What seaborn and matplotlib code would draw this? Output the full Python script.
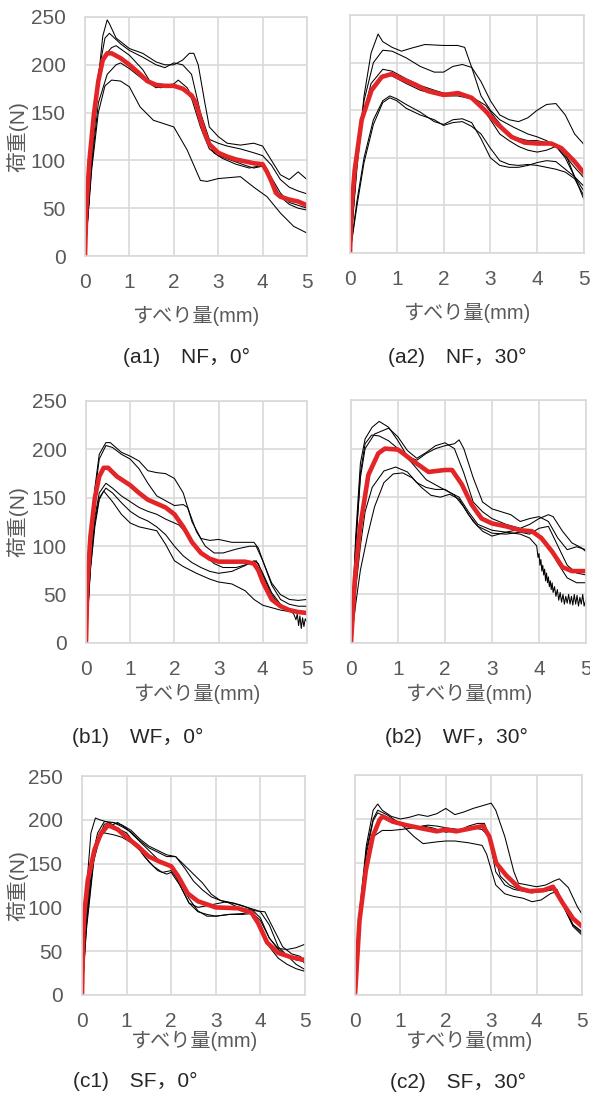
import matplotlib
matplotlib.use("Agg")
import matplotlib.pyplot as plt
import seaborn as sns

sns.set_style("white")
plt.rcParams["font.family"] = ["Liberation Sans", "Noto Sans CJK JP", "DejaVu Sans"]

# ---------------- data ----------------
X_TICKS = [0, 1, 2, 3, 4, 5]
Y_TICKS = [0, 50, 100, 150, 200, 250]
XLABEL = "すべり量(mm)"
YLABEL = "荷重(N)"
CAPTIONS = ["(a1)\u3000NF\uff0c0°", "(a2)\u3000NF\uff0c30°",
            "(b1)\u3000WF\uff0c0°", "(b2)\u3000WF\uff0c30°",
            "(c1)\u3000SF\uff0c0°", "(c2)\u3000SF\uff0c30°"]

# (a1) NF 0deg
A1_MEAN = [(0,0),(0.03,50),(0.1,100),(0.2,148),(0.3,183),(0.4,205),(0.5,212),(0.6,212),(0.8,207),(1.0,200),(1.2,192),(1.4,183),(1.6,179),(1.8,178),(2.0,178),(2.2,175),(2.4,168),(2.5,160),(2.6,143),(2.7,128),(2.8,117),(3.0,108),(3.2,104),(3.4,101),(3.6,99),(3.8,97),(4.0,96),(4.1,88),(4.2,78),(4.3,66),(4.4,62),(4.6,59),(4.8,57),(5.0,53)]
A1_S1 = [(0,0),(0.15,100),(0.3,185),(0.4,230),(0.5,247),(0.55,243),(0.7,228),(1.0,217),(1.3,212),(1.6,203),(1.8,200),(2.0,200),(2.2,205),(2.35,212),(2.45,212),(2.55,200),(2.7,160),(2.8,135),(3.0,125),(3.2,118),(3.5,116),(3.8,118),(4.0,115),(4.2,100),(4.4,85),(4.6,80),(4.8,88),(5.0,80)]
A1_S2 = [(0,0),(0.15,105),(0.3,190),(0.45,228),(0.55,233),(0.8,222),(1.0,215),(1.3,208),(1.6,200),(1.8,197),(2.0,202),(2.2,200),(2.4,190),(2.6,150),(2.8,122),(3.0,118),(3.2,115),(3.5,112),(3.8,108),(4.0,105),(4.2,95),(4.4,80),(4.6,72),(4.8,68),(5.0,65)]
A1_S3 = [(0,0),(0.15,100),(0.3,180),(0.45,210),(0.6,218),(0.7,220),(1.0,210),(1.3,195),(1.5,180),(1.7,176),(2.0,178),(2.2,175),(2.4,165),(2.6,135),(2.8,112),(3.0,105),(3.3,100),(3.6,95),(3.8,92),(4.0,94),(4.2,80),(4.4,62),(4.6,54),(4.8,50),(5.0,48)]
A1_S4 = [(0,0),(0.15,95),(0.3,160),(0.5,190),(0.7,200),(0.8,202),(1.0,196),(1.3,185),(1.6,176),(1.8,178),(2.0,180),(2.1,184),(2.3,176),(2.5,160),(2.7,125),(2.9,108),(3.1,102),(3.4,96),(3.7,92),(4.0,95),(4.2,82),(4.4,66),(4.6,56),(4.8,53),(5.0,50)]
A1_S5 = [(0,0),(0.15,90),(0.3,150),(0.45,178),(0.6,184),(0.8,183),(1.0,177),(1.24,156),(1.54,142),(2.0,135),(2.3,111),(2.6,79),(2.75,78),(3.0,81),(3.5,83),(3.8,72),(4.1,62),(4.4,45),(4.7,31),(5.0,24)]

# (a2) NF 30deg
A2_MEAN = [(0,0),(0.03,45),(0.1,87),(0.25,140),(0.46,171),(0.68,185),(0.89,188),(1.1,183),(1.39,177),(1.67,170),(2.0,166),(2.31,168),(2.6,163),(2.88,150),(3.16,135),(3.45,122),(3.73,116),(4.0,115),(4.3,115),(4.52,110),(4.8,96),(5.0,84)]
A2_S1 = [(0,0),(0.15,95),(0.3,165),(0.45,210),(0.6,230),(0.7,222),(0.9,216),(1.1,212),(1.3,215),(1.6,219),(2.0,218),(2.3,218),(2.45,216),(2.6,195),(2.8,165),(3.0,150),(3.2,140),(3.5,132),(3.8,125),(4.0,122),(4.2,118),(4.4,112),(4.6,100),(4.8,80),(5.0,65)]
A2_S2 = [(0,0),(0.15,90),(0.3,160),(0.5,200),(0.7,213),(0.9,212),(1.2,205),(1.5,196),(1.8,190),(2.0,190),(2.2,196),(2.4,198),(2.6,195),(2.8,180),(3.0,160),(3.2,145),(3.4,140),(3.6,138),(3.8,142),(4.0,150),(4.2,156),(4.4,157),(4.6,145),(4.8,125),(5.0,114)]
A2_S3 = [(0,0),(0.1,80),(0.25,140),(0.45,178),(0.7,193),(0.9,191),(1.2,183),(1.5,176),(1.8,171),(2.0,168),(2.3,167),(2.6,164),(2.9,155),(3.1,142),(3.3,130),(3.5,122),(3.8,118),(4.0,118),(4.2,116),(4.4,112),(4.6,102),(4.8,90),(5.0,79)]
A2_S4 = [(0,0),(0.1,75),(0.25,135),(0.45,173),(0.7,187),(0.9,186),(1.2,178),(1.5,171),(1.8,167),(2.0,165),(2.3,165),(2.6,162),(2.8,155),(3.0,140),(3.2,125),(3.4,118),(3.6,112),(3.8,108),(4.0,106),(4.2,108),(4.4,112),(4.6,105),(4.8,80),(5.0,56)]
A2_S5 = [(0,0),(0.15,55),(0.3,100),(0.5,140),(0.7,160),(0.85,165),(1.0,162),(1.2,156),(1.5,148),(1.8,138),(2.0,135),(2.2,140),(2.4,141),(2.6,137),(2.8,120),(3.0,100),(3.2,92),(3.4,90),(3.6,90),(3.8,92),(4.0,95),(4.2,97),(4.4,96),(4.6,88),(4.8,80),(5.0,70)]
A2_S6 = [(0,0),(0.15,50),(0.3,95),(0.5,135),(0.7,158),(0.85,163),(1.0,160),(1.2,152),(1.5,145),(1.8,140),(2.0,134),(2.2,137),(2.4,138),(2.6,133),(2.8,125),(3.0,110),(3.2,97),(3.4,93),(3.6,92),(3.8,93),(4.0,92),(4.2,90),(4.4,88),(4.6,85),(4.8,78),(5.0,60)]

# (b1) WF 0deg
B1_MEAN = [(0,0),(0.03,60),(0.1,110),(0.2,150),(0.3,172),(0.4,181),(0.5,181),(0.7,172),(1.0,163),(1.2,155),(1.4,148),(1.6,144),(1.8,140),(2.0,133),(2.2,120),(2.4,104),(2.6,93),(2.8,87),(3.0,84),(3.3,84),(3.6,84),(3.8,82),(3.9,75),(4.0,63),(4.2,45),(4.4,38),(4.6,34),(4.8,32),(5.0,31)]
B1_S1 = [(0,0),(0.1,90),(0.2,160),(0.3,195),(0.45,207),(0.55,207),(0.8,197),(1.0,193),(1.2,188),(1.4,178),(1.6,176),(1.8,175),(2.0,170),(2.2,155),(2.4,125),(2.6,108),(2.8,106),(3.0,107),(3.3,104),(3.6,104),(3.8,104),(3.9,98),(4.0,85),(4.2,62),(4.4,50),(4.6,45),(4.8,44),(5.0,45)]
B1_S2 = [(0,0),(0.1,85),(0.2,155),(0.3,190),(0.45,204),(0.6,202),(0.8,195),(1.0,190),(1.2,180),(1.4,165),(1.6,152),(1.8,147),(2.0,142),(2.2,143),(2.3,140),(2.5,115),(2.7,100),(2.9,93),(3.1,93),(3.4,97),(3.7,100),(3.85,100),(4.0,85),(4.2,60),(4.4,45),(4.6,40),(4.8,38),(5.0,38)]
B1_S3 = [(0,0),(0.1,80),(0.2,130),(0.3,155),(0.45,165),(0.6,160),(0.8,152),(1.0,146),(1.2,140),(1.4,136),(1.6,133),(1.8,128),(2.0,124),(2.1,122),(2.3,112),(2.5,100),(2.7,90),(2.9,82),(3.1,78),(3.4,78),(3.7,82),(3.85,85),(4.0,72),(4.2,52),(4.4,40),(4.6,34),(4.7,30),(4.75,24),(4.78,30),(4.81,18),(4.84,28),(4.87,15),(4.9,26),(4.93,17),(4.96,25),(5.0,22)]
B1_S4 = [(0,0),(0.1,75),(0.2,120),(0.3,148),(0.4,157),(0.6,146),(0.8,133),(1.0,124),(1.2,120),(1.4,118),(1.6,116),(1.8,102),(2.0,85),(2.2,79),(2.5,72),(2.8,66),(3.0,63),(3.3,61),(3.6,54),(3.8,45),(4.0,39),(4.4,34),(4.8,31),(5.0,30)]
B1_S5 = [(0,0),(0.1,78),(0.2,125),(0.3,150),(0.45,160),(0.6,155),(0.8,145),(1.0,136),(1.2,130),(1.4,126),(1.6,120),(1.8,112),(2.0,100),(2.2,90),(2.4,83),(2.6,78),(2.8,74),(3.0,72),(3.3,74),(3.6,80),(3.8,85),(3.9,82),(4.0,70),(4.2,50),(4.4,38),(4.6,33),(4.8,31),(5.0,30)]

# (b2) WF 30deg
B2_MEAN = [(0,0),(0.08,65),(0.19,118),(0.37,173),(0.58,195),(0.72,200),(1.0,199),(1.3,188),(1.65,176),(2.0,178),(2.15,178),(2.36,163),(2.57,142),(2.78,128),(3.0,123),(3.3,120),(3.6,116),(3.85,115),(4.05,108),(4.28,94),(4.5,78),(4.7,74),(5.0,74)]
B2_S1 = [(0,0),(0.1,110),(0.2,185),(0.3,210),(0.45,222),(0.6,228),(0.8,222),(1.0,208),(1.2,192),(1.4,188),(1.6,195),(1.8,200),(2.0,203),(2.2,205),(2.3,209),(2.4,200),(2.6,170),(2.8,145),(3.0,138),(3.2,135),(3.4,132),(3.6,125),(3.8,128),(4.0,130),(4.2,125),(4.4,108),(4.6,96),(4.8,99),(5.0,96)]
B2_S2 = [(0,0),(0.1,100),(0.2,170),(0.3,200),(0.5,215),(0.8,221),(1.0,212),(1.2,198),(1.4,190),(1.6,196),(1.8,203),(2.0,206),(2.2,200),(2.4,175),(2.6,145),(2.8,135),(3.0,128),(3.3,122),(3.6,118),(3.8,122),(4.0,128),(4.2,132),(4.3,130),(4.5,115),(4.7,103),(4.9,98),(5.0,94)]
B2_S3 = [(0,0),(0.1,100),(0.2,175),(0.3,205),(0.44,214),(0.6,213),(0.8,208),(1.0,200),(1.3,185),(1.6,168),(1.9,160),(2.1,155),(2.3,150),(2.5,135),(2.7,122),(3.0,116),(3.3,114),(3.6,112),(3.8,108),(3.95,100),(3.98,88),(4.0,92),(4.02,80),(4.04,86),(4.06,74),(4.08,80),(4.1,70),(4.12,76),(4.14,64),(4.16,72),(4.18,62),(4.2,68),(4.22,58),(4.24,64),(4.26,55),(4.28,62),(4.3,52),(4.33,58),(4.36,48),(4.39,55),(4.42,44),(4.45,52),(4.48,42),(4.51,50),(4.54,40),(4.57,48),(4.6,41),(4.63,50),(4.66,40),(4.69,48),(4.72,39),(4.75,50),(4.78,40),(4.81,49),(4.84,38),(4.87,47),(4.9,40),(4.93,50),(4.96,38),(5.0,45)]
B2_S4 = [(0,0),(0.1,55),(0.2,100),(0.3,135),(0.45,160),(0.7,177),(0.95,181),(1.2,176),(1.4,165),(1.6,160),(1.8,158),(2.0,158),(2.2,152),(2.4,140),(2.6,125),(2.8,115),(3.0,110),(3.3,114),(3.6,117),(3.8,116),(4.0,110),(4.2,100),(4.4,82),(4.6,67),(4.8,62),(5.0,62)]
B2_S5 = [(0,0),(0.1,40),(0.2,75),(0.35,110),(0.5,140),(0.7,165),(0.9,174),(1.1,175),(1.3,170),(1.5,160),(1.7,152),(1.9,150),(2.1,153),(2.3,148),(2.5,132),(2.7,120),(3.0,113),(3.3,112),(3.6,114),(3.8,112),(4.0,118),(4.2,120),(4.4,100),(4.6,80),(4.8,72),(5.0,70)]

# (c1) SF 0deg
C1_MEAN = [(0,0),(0.03,70),(0.06,97),(0.13,131),(0.28,166),(0.43,185),(0.58,194),(0.8,189),(1.0,180),(1.25,170),(1.5,158),(1.75,152),(2.0,147),(2.15,136),(2.37,116),(2.6,107),(3.0,100),(3.5,99),(3.8,94),(3.95,82),(4.15,60),(4.4,48),(4.7,43),(5.0,40)]
C1_S1 = [(0,0),(0.1,120),(0.2,185),(0.3,202),(0.4,200),(0.6,197),(0.8,190),(1.0,185),(1.2,172),(1.4,158),(1.6,147),(1.8,140),(2.0,142),(2.2,128),(2.4,110),(2.6,96),(2.8,90),(3.0,90),(3.3,92),(3.6,93),(3.8,95),(4.0,85),(4.2,65),(4.4,52),(4.6,45),(4.8,40),(5.0,38)]
C1_S2 = [(0,0),(0.1,90),(0.2,150),(0.35,185),(0.5,198),(0.7,197),(0.9,192),(1.1,186),(1.3,176),(1.5,168),(1.7,163),(1.9,158),(2.1,158),(2.3,145),(2.5,130),(2.7,120),(2.9,112),(3.1,108),(3.3,105),(3.5,100),(3.7,98),(3.9,96),(4.1,95),(4.3,75),(4.5,55),(4.7,47),(4.9,44),(5.0,35)]
C1_S3 = [(0,0),(0.1,80),(0.25,150),(0.4,180),(0.6,192),(0.8,197),(1.0,190),(1.2,180),(1.4,170),(1.6,160),(1.8,150),(2.0,147),(2.2,125),(2.4,105),(2.6,100),(2.8,102),(3.0,104),(3.2,106),(3.4,105),(3.6,102),(3.8,98),(4.0,88),(4.2,65),(4.4,53),(4.6,52),(4.8,54),(5.0,58)]
C1_S4 = [(0,0),(0.1,85),(0.25,160),(0.4,183),(0.5,185),(0.7,183),(0.9,180),(1.1,174),(1.3,165),(1.5,152),(1.7,142),(1.9,138),(2.0,140),(2.2,125),(2.4,105),(2.6,95),(2.8,92),(3.0,90),(3.3,92),(3.6,92),(3.8,93),(4.0,80),(4.2,55),(4.4,42),(4.6,35),(4.8,30),(5.0,27)]
C1_S5 = [(0,0),(0.1,75),(0.3,170),(0.5,195),(0.7,197),(0.9,194),(1.1,188),(1.3,178),(1.5,170),(1.7,165),(1.9,160),(2.1,158),(2.3,148),(2.5,138),(2.7,128),(2.9,115),(3.1,108),(3.3,106),(3.5,103),(3.7,100),(3.9,97),(4.0,95),(4.2,80),(4.4,55),(4.6,45),(4.8,35),(5.0,29)]

# (c2) SF 30deg
C2_MEAN = [(0,0),(0.1,85),(0.24,142),(0.39,180),(0.54,199),(0.61,203),(0.83,197),(1.13,193),(1.5,189),(1.8,186),(2.0,188),(2.23,186),(2.52,189),(2.82,192),(2.96,180),(3.11,150),(3.33,136),(3.63,121),(3.85,118),(4.15,119),(4.36,123),(4.58,104),(4.8,87),(5.0,78)]
C2_S1 = [(0,0),(0.1,95),(0.25,170),(0.4,210),(0.5,217),(0.6,210),(0.8,203),(1.0,200),(1.2,202),(1.4,205),(1.6,203),(1.8,206),(2.0,212),(2.2,205),(2.4,208),(2.6,212),(2.8,215),(3.0,218),(3.1,210),(3.3,180),(3.5,140),(3.6,127),(3.8,125),(4.0,123),(4.2,125),(4.4,130),(4.5,132),(4.7,122),(4.9,100),(5.0,92)]
C2_S2 = [(0,0),(0.1,90),(0.25,165),(0.4,200),(0.5,210),(0.7,205),(0.9,198),(1.1,190),(1.3,180),(1.5,172),(1.8,174),(2.0,175),(2.2,175),(2.5,173),(2.8,170),(2.9,160),(3.1,125),(3.3,115),(3.5,112),(3.7,110),(3.9,106),(4.1,108),(4.3,115),(4.4,117),(4.6,100),(4.8,80),(5.0,70)]
C2_S3 = [(0,0),(0.1,88),(0.25,160),(0.4,198),(0.5,207),(0.7,202),(0.9,198),(1.1,193),(1.3,190),(1.5,192),(1.7,190),(2.0,185),(2.3,187),(2.5,192),(2.7,195),(2.85,195),(3.0,175),(3.2,135),(3.4,125),(3.6,120),(3.8,118),(4.0,117),(4.2,118),(4.4,120),(4.6,100),(4.8,78),(5.0,68)]
C2_S4 = [(0,0),(0.1,80),(0.25,150),(0.4,180),(0.6,187),(0.8,187),(1.0,188),(1.3,190),(1.6,193),(1.8,192),(2.0,190),(2.3,188),(2.6,190),(2.8,188),(2.95,180),(3.1,140),(3.3,125),(3.5,120),(3.7,118),(3.9,116),(4.1,118),(4.3,120),(4.45,120),(4.6,100),(4.8,80),(5.0,72)]

PANELS = [
    (A1_MEAN, [A1_S1, A1_S2, A1_S3, A1_S4, A1_S5]),
    (A2_MEAN, [A2_S1, A2_S2, A2_S3, A2_S4, A2_S5, A2_S6]),
    (B1_MEAN, [B1_S1, B1_S2, B1_S3, B1_S4, B1_S5]),
    (B2_MEAN, [B2_S1, B2_S2, B2_S3, B2_S4, B2_S5]),
    (C1_MEAN, [C1_S1, C1_S2, C1_S3, C1_S4, C1_S5]),
    (C2_MEAN, [C2_S1, C2_S2, C2_S3, C2_S4]),
]

# ---------------- layout / style ----------------
W, H = 590, 1095
RED = "#E42527"
GRID = "#D9D9D9"
TXT = "#595959"
BOXES = [(85, 17, 307, 256), (350, 15, 584, 253),
         (86, 401, 307, 643), (351, 400, 586, 643),
         (82, 776, 305, 995), (355, 775, 582, 995)]
XLAB_OFF = [60, 60, 51, 51, 46, 46]
CAP_POS = [(123, 357), (388, 357), (72, 737), (385, 737), (73, 1081), (390, 1082)]

fig = plt.figure(figsize=(W / 100, H / 100), dpi=100)

for i, ((mean, specs), (l, t, r, b)) in enumerate(zip(PANELS, BOXES)):
    ax = fig.add_axes([l / W, 1 - b / H, (r - l) / W, (b - t) / H])
    for s in specs:
        xs, ys = zip(*s)
        sns.lineplot(x=list(xs), y=list(ys), ax=ax, color="black",
                     linewidth=0.75, sort=False, estimator=None)
    xs, ys = zip(*mean)
    sns.lineplot(x=list(xs), y=list(ys), ax=ax, color=RED,
                 linewidth=3.3, sort=False, estimator=None)
    ax.set_xlim(0, 5)
    ax.set_ylim(0, 250)
    ax.set_xticks(X_TICKS)
    ax.set_yticks(Y_TICKS)
    ax.grid(True, color=GRID, linewidth=1.2)
    ax.set_axisbelow(True)
    for sp in ax.spines.values():
        sp.set_color(GRID)
        sp.set_linewidth(1.2)
    left_col = (i % 2 == 0)
    ax.tick_params(axis="both", length=0, labelsize=15, labelcolor=TXT)
    ax.tick_params(axis="x", pad=12)
    ax.tick_params(axis="y", pad=14, labelleft=left_col)
    hpx = b - t
    wpx = r - l
    ax.set_xlabel(XLABEL, fontsize=14.5, color=TXT)
    ax.xaxis.label.set_va("center")
    ax.xaxis.set_label_coords(0.5, -XLAB_OFF[i] / hpx)
    if left_col:
        ax.set_ylabel(YLABEL, fontsize=15, color=TXT)
        ax.yaxis.label.set_va("center")
        ax.yaxis.set_label_coords((18 - l) / wpx, 0.5)
    else:
        ax.set_ylabel("")
    cx, cy = CAP_POS[i]
    fig.text(cx / W, 1 - cy / H, CAPTIONS[i], fontsize=15, color="#262626",
             ha="left", va="center")

fig.savefig("out.png", dpi=100)
